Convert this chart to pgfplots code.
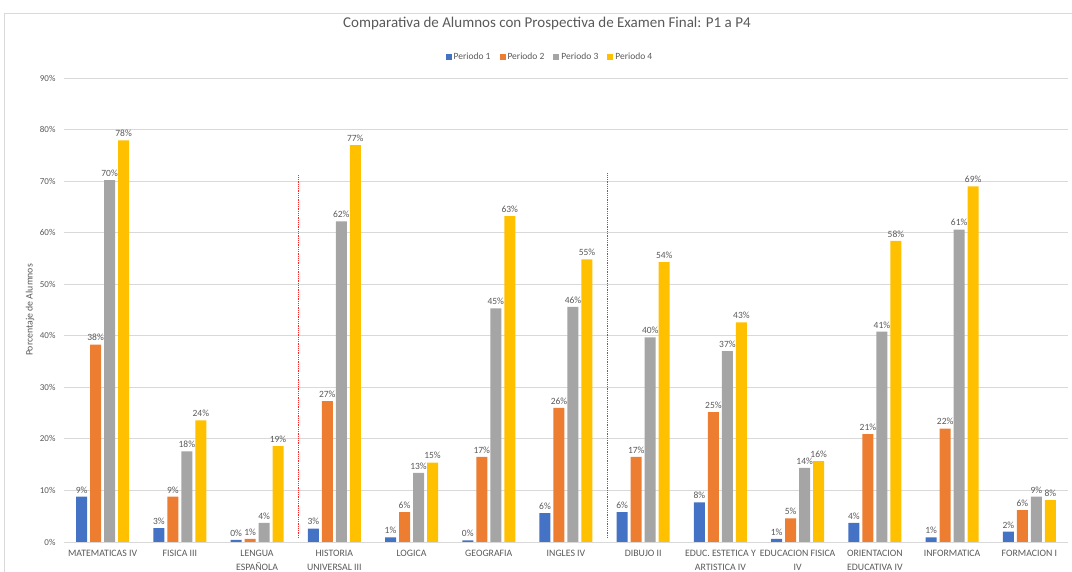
\documentclass[border=0pt]{standalone}
\usepackage{pgfplots}
\pgfplotsset{compat=1.18}
\usepackage{pgfplotstable}
\usepackage{fontspec}
\setmainfont{Carlito}
\definecolor{c1}{HTML}{4472C4}
\definecolor{c2}{HTML}{ED7D31}
\definecolor{c3}{HTML}{A5A5A5}
\definecolor{c4}{HTML}{FFC000}
\definecolor{txt}{HTML}{595959}
\definecolor{gridc}{HTML}{D9D9D9}
\pgfplotstableread{
x p1 p2 p3 p4
0 8.8 38.3 70.2 77.9
1 2.7 8.8 17.6 23.6
2 0.4 0.6 3.7 18.6
3 2.6 27.3 62.2 77.0
4 0.9 5.8 13.4 15.4
5 0.3 16.5 45.3 63.2
6 5.6 26.0 45.6 54.8
7 5.8 16.5 39.7 54.3
8 7.7 25.2 37.0 42.6
9 0.6 4.6 14.4 15.7
10 3.7 20.9 40.8 58.4
11 0.9 22.0 60.6 69.0
12 2.0 6.2 8.8 8.1
}\datatable
\begin{document}
\begin{tikzpicture}[x=1pt,y=1pt]
\path[use as bounding box] (0,0) rectangle (1072,572);
\draw[gridc, line width=0.8pt] (4,-5) -- (4,559) -- (1080,559);
\begin{axis}[
  at={(64pt,30pt)}, anchor=south west,
  scale only axis, width=1004pt, height=464pt,
  ybar=3pt, bar width=11pt,
  xmin=-0.5, xmax=12.5, ymin=0, ymax=90,
  xtick=data,
  xticklabels={MATEMATICAS IV, FISICA III, LENGUA\\ESPAÑOLA, HISTORIA\\UNIVERSAL III, LOGICA, GEOGRAFIA, INGLES IV, DIBUJO II, EDUC. ESTETICA Y\\ARTISTICA IV, EDUCACION FISICA\\IV, ORIENTACION\\EDUCATIVA IV, INFORMATICA, FORMACION I},
  ytick={0,10,...,90},
  yticklabel={\pgfmathprintnumber{\tick}\%},
  /pgf/number format/assume math mode=true,
  major tick length=0pt,
  axis line style={draw=none},
  ymajorgrids, grid style={gridc, line width=0.8pt},
  xticklabel style={align=center, font=\fontsize{9.8}{14.5}\selectfont, text=txt, yshift=-4.5pt},
  yticklabel style={font=\fontsize{9}{10}\selectfont, text=txt, xshift=-5pt},
  ylabel={Porcentaje de Alumnos},
  ylabel style={at={(axis description cs:-0.0339,0.5)}, anchor=center, font=\fontsize{9.8}{11}\selectfont, text=txt},
  title={Comparativa de Alumnos con Prospectiva de Examen Final: P1 a P4},
  title style={at={(axis description cs:0.481,1)}, anchor=center, yshift=48pt, font=\fontsize{15}{17}\selectfont, text=txt},
  legend style={at={(axis description cs:0.484,1)}, anchor=center, yshift=21pt, draw=none, fill=none, font=\fontsize{9.5}{10}\selectfont, text=txt, /tikz/every even column/.append style={column sep=7pt}},
  legend columns=-1,
  legend image code/.code={\fill[#1] (0pt,-3pt) rectangle (6pt,3pt);},
  nodes near coords={\pgfmathprintnumber[fixed,precision=0]{\pgfplotspointmeta}\%},
  every node near coord/.append style={font=\fontsize{9.5}{10}\selectfont, text=txt, yshift=0pt},
  clip=false,
]
\addplot[fill=c1, draw=none] table[x=x,y=p1]{\datatable};
\addplot[fill=c2, draw=none] table[x=x,y=p2]{\datatable};
\addplot[fill=c3, draw=none] table[x=x,y=p3]{\datatable};
\addplot[fill=c4, draw=none] table[x=x,y=p4]{\datatable};
\legend{Periodo 1, Periodo 2, Periodo 3, Periodo 4}
\draw[red!85, densely dotted, line width=0.8pt] (axis cs:2.53,0.8) -- (axis cs:2.53,71.3);
\draw[red!85, densely dotted, line width=0.8pt] (axis cs:6.53,0.8) -- (axis cs:6.53,71.6);
\end{axis}
\end{tikzpicture}
\end{document}
